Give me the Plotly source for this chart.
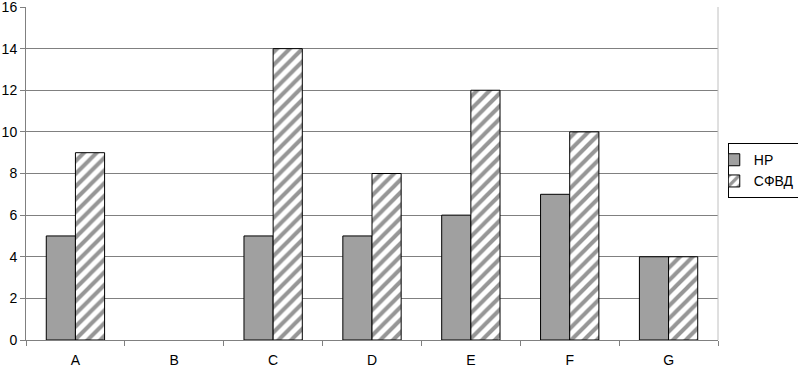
import plotly.graph_objects as go

categories = ["A", "B", "C", "D", "E", "F", "G"]
hp_values = [5, None, 5, 5, 6, 7, 4]
sfvd_values = [9, None, 14, 8, 12, 10, 4]
y_ticks = [0, 2, 4, 6, 8, 10, 12, 14, 16]

fig = go.Figure()
fig.add_trace(go.Bar(
    x=categories, y=hp_values, name="НР",
    marker=dict(color="#a0a0a0", line=dict(color="#000000", width=1)),
))
fig.add_trace(go.Bar(
    x=categories, y=sfvd_values, name="СФВД",
    marker=dict(color="#ffffff", line=dict(color="#000000", width=1),
                pattern=dict(shape="/", fgcolor="#2e2e2e", bgcolor="#ffffff",
                             size=9, solidity=0.45)),
))

fig.update_layout(
    width=798, height=367,
    margin=dict(l=26, r=80, t=7, b=27, autoexpand=False),
    paper_bgcolor="white", plot_bgcolor="white",
    barmode="group", bargap=0.41, bargroupgap=0,
    font=dict(family="Liberation Sans, Arial, sans-serif", size=14, color="#000000"),
    showlegend=True,
    legend=dict(xref="container", yref="container", x=0.912, y=0.535,
                xanchor="left", yanchor="middle", indentation=-15,
                bordercolor="#000000", borderwidth=1, bgcolor="white",
                font=dict(size=14), itemwidth=30, tracegroupgap=0),
    xaxis=dict(
        showline=True, linecolor="#808080", linewidth=1, automargin=False,
        ticks="outside", ticklen=5, tickcolor="#808080", tickson="boundaries",
        showgrid=False, mirror=False, ticklabelstandoff=7,
    ),
    yaxis=dict(
        range=[0, 16], tickvals=y_ticks, showline=True, linecolor="#808080",
        automargin=False, ticklabeloverflow="allow",
        ticks="outside", ticklen=5, tickcolor="#808080",
        showgrid=True, gridcolor="#808080", gridwidth=1, zeroline=False,
    ),
    shapes=[dict(type="line", xref="paper", yref="paper", x0=1, x1=1, y0=0, y1=1,
                 line=dict(color="#c0c0c0", width=1))],
)

fig.write_html("out.html", config={"displayModeBar": False},
               post_script="document.body.style.margin='0';document.body.style.padding='0';")
